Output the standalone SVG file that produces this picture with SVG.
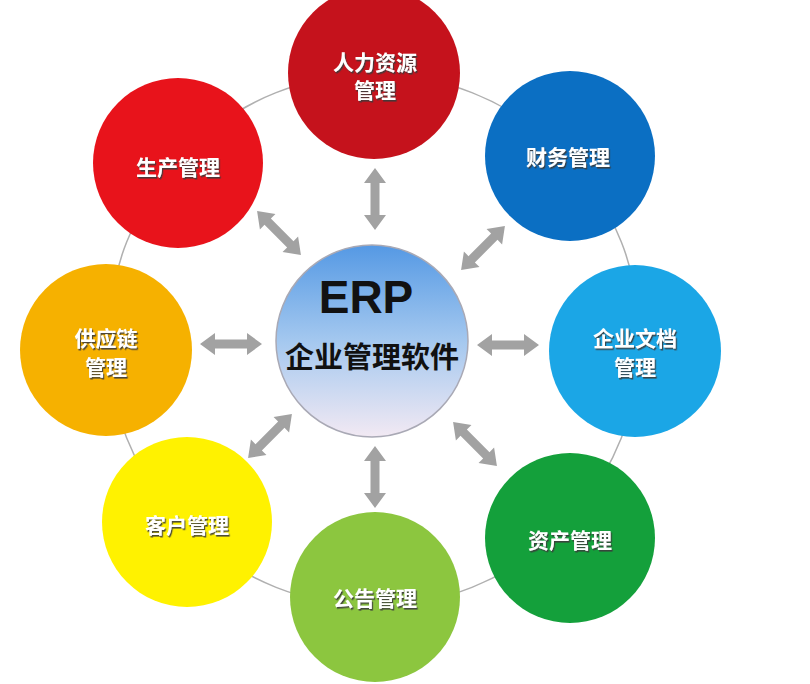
<svg xmlns="http://www.w3.org/2000/svg" width="810" height="684" viewBox="0 0 810 684">
<style>
.lbl{font-family:"Noto Sans CJK SC","Noto Sans",sans-serif;font-weight:700;font-size:21px;fill:#ffffff;text-anchor:middle;filter:url(#sh)}
.arr{fill:#a2a2a2}
.ring{fill:none;stroke:#b0b0b0;stroke-width:1.5}
</style>
<defs>
<filter id="sh" x="-20%" y="-40%" width="140%" height="180%">
<feDropShadow dx="1.2" dy="1.6" stdDeviation="0.6" flood-color="#3a3a3a" flood-opacity="0.9"/>
</filter>
<linearGradient id="hub" x1="0" y1="0" x2="0" y2="1">
<stop offset="0" stop-color="#5599e4"/>
<stop offset="0.5" stop-color="#a4c8ef"/>
<stop offset="1" stop-color="#f2e9f3"/>
</linearGradient>
<path id="arrow" d="M-31,0 L-16,-11 L-16,-4.5 L16,-4.5 L16,-11 L31,0 L16,11 L16,4.5 L-16,4.5 L-16,11 Z"/>
</defs>
<rect width="810" height="684" fill="#ffffff"/>
<g id="connectors">
<circle class="ring" cx="374" cy="340" r="266"/>
<use href="#arrow" class="arr" transform="translate(375,199) rotate(90)"/>
<use href="#arrow" class="arr" transform="translate(375,477) rotate(90)"/>
<use href="#arrow" class="arr" transform="translate(231,344)"/>
<use href="#arrow" class="arr" transform="translate(508,345)"/>
<use href="#arrow" class="arr" transform="translate(483,248) rotate(-45)"/>
<use href="#arrow" class="arr" transform="translate(279,233) rotate(45)"/>
<use href="#arrow" class="arr" transform="translate(270,436) rotate(-45)"/>
<use href="#arrow" class="arr" transform="translate(475,444) rotate(45)"/>
</g>
<g id="hub-node">
<circle cx="372" cy="341" r="96" fill="url(#hub)" stroke="#a9a9b5" stroke-width="1.5"/>
<text x="366" y="313" font-family="'Liberation Sans',Arial,sans-serif" font-weight="700" font-size="46" fill="#111" text-anchor="middle">ERP</text>
<text x="372" y="368" font-family="'Noto Sans CJK SC',sans-serif" font-weight="700" font-size="29" fill="#111" text-anchor="middle">企业管理软件</text>
</g>
<g id="hr">
<circle cx="374" cy="73" r="86" fill="#c5121c"/>
<text class="lbl" x="375" y="70">人力资源</text>
<text class="lbl" x="375" y="98">管理</text>
</g>
<g id="finance">
<circle cx="570" cy="156" r="85" fill="#0b6fc3"/>
<text class="lbl" x="568" y="165">财务管理</text>
</g>
<g id="docs">
<circle cx="635" cy="351" r="86" fill="#1ba6e6"/>
<text class="lbl" x="635" y="346">企业文档</text>
<text class="lbl" x="635" y="375">管理</text>
</g>
<g id="assets">
<circle cx="570" cy="538" r="85" fill="#14a03b"/>
<text class="lbl" x="570" y="548">资产管理</text>
</g>
<g id="notice">
<circle cx="375" cy="597" r="85" fill="#8cc63f"/>
<text class="lbl" x="375" y="606">公告管理</text>
</g>
<g id="customer">
<circle cx="187" cy="522" r="85" fill="#fff200"/>
<text class="lbl" x="187" y="533">客户管理</text>
</g>
<g id="supply">
<circle cx="106" cy="350" r="86" fill="#f6b100"/>
<text class="lbl" x="106" y="346">供应链</text>
<text class="lbl" x="106" y="375">管理</text>
</g>
<g id="production">
<circle cx="178" cy="163" r="85" fill="#e8131b"/>
<text class="lbl" x="178" y="175">生产管理</text>
</g>
</svg>
